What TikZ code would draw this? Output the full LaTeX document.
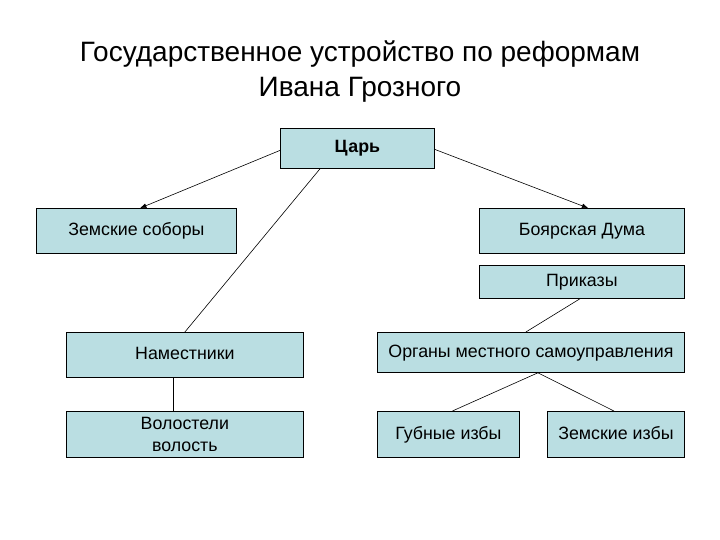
\documentclass[tikz,border=0pt]{standalone}
\usepackage{fontspec}
\setmainfont{Liberation Sans}
\usetikzlibrary{arrows.meta}
\definecolor{boxfill}{RGB}{186,222,226}
\begin{document}
\begin{tikzpicture}[x=1pt,y=-1pt,
  box/.style={draw=black, line width=0.8pt, fill=boxfill, anchor=north west, inner sep=0pt, font=\fontsize{17.8}{22}\selectfont, align=center},
  one/.style={text height=12.8pt, text depth=3.6pt},
  conn/.style={draw=black, line width=0.6pt},
  arr/.style={conn, -{Triangle[length=6pt,width=4.5pt]}}]
\useasboundingbox[fill=white] (0,0) rectangle (720,540);
\node[anchor=center, font=\fontsize{28}{35}\selectfont, align=center] (title) at (360,72) {Государственное устройство по реформам\\Ивана Грозного};
\node[box, one, minimum width=154pt, minimum height=40pt, font=\fontsize{17.8}{22}\selectfont\bfseries] (tsar) at (280,128) {Царь};
\node[box, one, minimum width=200pt, minimum height=45pt] (zs) at (36,208) {Земские соборы};
\node[box, one, minimum width=205pt, minimum height=45pt] (bd) at (479,208) {Боярская Дума};
\node[box, one, minimum width=205pt, minimum height=33pt] (pr) at (479,265) {Приказы};
\node[box, one, minimum width=237pt, minimum height=45pt] (nam) at (66,332) {Наместники};
\node[box, minimum width=237pt, minimum height=46pt] (vol) at (66,411) {Волостели\\волость};
\node[box, one, minimum width=307pt, minimum height=40pt] (org) at (377,332) {Органы местного самоуправления};
\node[box, one, minimum width=142pt, minimum height=46pt] (gub) at (377,411) {Губные избы};
\node[box, one, minimum width=137pt, minimum height=46pt] (zi) at (547,411) {Земские избы};
\draw[arr] ([yshift=-2pt]tsar.west) -- ([xshift=4pt]zs.north);
\draw[arr] ([yshift=-1pt]tsar.east) -- ([xshift=6pt]bd.north);
\draw[conn] ([xshift=40pt]tsar.south west) -- (nam.north);
\draw[conn] ([xshift=-12pt]nam.south) -- ([xshift=-12pt]vol.north);
\draw[conn] ([xshift=-2pt]pr.south) -- ([xshift=-5pt]org.north);
\draw[conn] ([xshift=7pt]org.south) -- ([xshift=4pt]gub.north);
\draw[conn] ([xshift=7pt]org.south) -- ([xshift=-2pt]zi.north);
\end{tikzpicture}
\end{document}
